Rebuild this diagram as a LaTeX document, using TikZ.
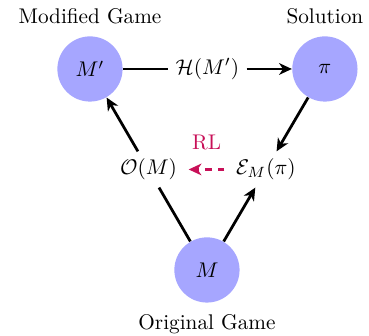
\documentclass[tikz,border=0pt]{standalone}
\usepackage{amsmath, amssymb}
\usepackage{xcolor}
\usetikzlibrary{positioning,arrows.meta,calc}
\definecolor{rlred}{RGB}{200,16,88}

\begin{document}
\begin{tikzpicture}[
  >={Stealth[length=6pt,width=5.5pt,inset=1.8pt]},
  game/.style={circle, fill=blue!35, minimum size=1.08cm, inner sep=0pt},
  link/.style={line width=1.3pt},
  rl/.style={->, line width=1.3pt, dashed, color=rlred, shorten >=2pt, shorten <=2pt},
]
\useasboundingbox (0,0) rectangle (6.11,-5.56);
\node[game, label={[label distance=2pt]above:Modified Game}] (Mp) at (1.49,-1.142) {$M'$};
\node[game, label={[label distance=2pt]above:Solution}]      (pi) at (5.38,-1.142) {$\pi$};
\node[game, label={[label distance=2pt]below:Original Game}] (M)  at (3.427,-4.47) {$M$};

\node (H) at ($(Mp)!0.5!(pi)$) {$\mathcal{H}(M')$};
\node (O) at ($(M)!0.5!(Mp)$)  {$\mathcal{O}(M)$};
\node (E) at ($(M)!0.5!(pi)$)  {$\mathcal{E}_M(\pi)$};

\draw[link] (Mp) -- (H);
\draw[link, ->] (H) -- (pi);
\draw[link] (M) -- (O);
\draw[link, ->] (O) -- (Mp);
\draw[link, ->] (pi) -- (E);
\draw[link, ->] (M) -- (E);

\draw[rl] (E) -- node[above=5pt, text=rlred] (rlname) {RL} (O);
\end{tikzpicture}
\end{document}
